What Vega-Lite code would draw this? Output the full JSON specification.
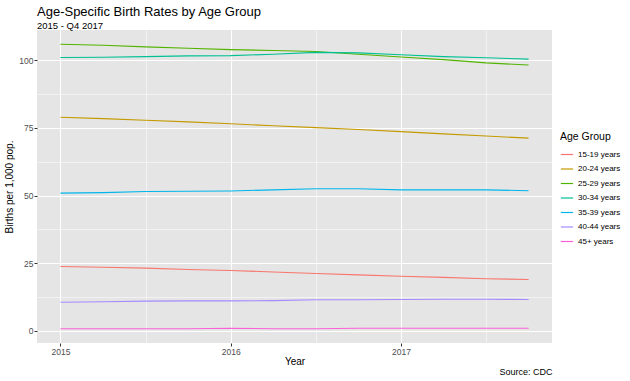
{
  "$schema": "https://vega.github.io/schema/vega-lite/v6.json",
  "width": 515,
  "height": 313,
  "autosize": {"type": "none"},
  "padding": {"left": 37, "top": 30, "right": 78, "bottom": 38},
  "background": "white",
  "config": {
    "font": "Liberation Sans",
    "view": {"fill": "#E5E5E5", "stroke": null},
    "axis": {
      "domain": false,
      "gridColor": "white",
      "labelColor": "#4D4D4D",
      "labelFontSize": 8.5,
      "tickColor": "#333333",
      "tickSize": 3,
      "labelPadding": 1,
      "titleFontSize": 10,
      "titleFontWeight": "normal",
      "titleColor": "black"
    },
    "legend": {
      "titleFontSize": 10.5,
      "titleFontWeight": "normal",
      "labelFontSize": 8,
      "labelColor": "black",
      "symbolType": "stroke",
      "symbolStrokeWidth": 1.2,
      "symbolSize": 150,
      "rowPadding": 3.5
    }
  },
  "title": {"text": "Age-Specific Birth Rates by Age Group", "subtitle": "2015 - Q4 2017", "anchor": "start", "frame": "group", "fontSize": 13, "fontWeight": "normal", "subtitleFontSize": 9.5, "subtitleColor": "black", "offset": 0, "subtitlePadding": 2},
  "data": {"values": [
    {"year": 2015.0, "group": "15-19 years", "rate": 23.8},
    {"year": 2015.25, "group": "15-19 years", "rate": 23.5},
    {"year": 2015.5, "group": "15-19 years", "rate": 23.2},
    {"year": 2015.75, "group": "15-19 years", "rate": 22.7},
    {"year": 2016.0, "group": "15-19 years", "rate": 22.3},
    {"year": 2016.25, "group": "15-19 years", "rate": 21.8},
    {"year": 2016.5, "group": "15-19 years", "rate": 21.2},
    {"year": 2016.75, "group": "15-19 years", "rate": 20.7},
    {"year": 2017.0, "group": "15-19 years", "rate": 20.2},
    {"year": 2017.25, "group": "15-19 years", "rate": 19.8},
    {"year": 2017.5, "group": "15-19 years", "rate": 19.3},
    {"year": 2017.75, "group": "15-19 years", "rate": 19.0},
    {"year": 2015.0, "group": "20-24 years", "rate": 78.9},
    {"year": 2015.25, "group": "20-24 years", "rate": 78.4},
    {"year": 2015.5, "group": "20-24 years", "rate": 77.8},
    {"year": 2015.75, "group": "20-24 years", "rate": 77.2},
    {"year": 2016.0, "group": "20-24 years", "rate": 76.5},
    {"year": 2016.25, "group": "20-24 years", "rate": 75.8},
    {"year": 2016.5, "group": "20-24 years", "rate": 75.1},
    {"year": 2016.75, "group": "20-24 years", "rate": 74.4},
    {"year": 2017.0, "group": "20-24 years", "rate": 73.6},
    {"year": 2017.25, "group": "20-24 years", "rate": 72.8},
    {"year": 2017.5, "group": "20-24 years", "rate": 72.0},
    {"year": 2017.75, "group": "20-24 years", "rate": 71.2},
    {"year": 2015.0, "group": "25-29 years", "rate": 105.9},
    {"year": 2015.25, "group": "25-29 years", "rate": 105.5},
    {"year": 2015.5, "group": "25-29 years", "rate": 104.9},
    {"year": 2015.75, "group": "25-29 years", "rate": 104.4},
    {"year": 2016.0, "group": "25-29 years", "rate": 103.9},
    {"year": 2016.25, "group": "25-29 years", "rate": 103.6},
    {"year": 2016.5, "group": "25-29 years", "rate": 103.2},
    {"year": 2016.75, "group": "25-29 years", "rate": 102.2},
    {"year": 2017.0, "group": "25-29 years", "rate": 101.2},
    {"year": 2017.25, "group": "25-29 years", "rate": 100.2},
    {"year": 2017.5, "group": "25-29 years", "rate": 99.0},
    {"year": 2017.75, "group": "25-29 years", "rate": 98.2},
    {"year": 2015.0, "group": "30-34 years", "rate": 101.0},
    {"year": 2015.25, "group": "30-34 years", "rate": 101.1},
    {"year": 2015.5, "group": "30-34 years", "rate": 101.3},
    {"year": 2015.75, "group": "30-34 years", "rate": 101.6},
    {"year": 2016.0, "group": "30-34 years", "rate": 101.7},
    {"year": 2016.25, "group": "30-34 years", "rate": 102.2},
    {"year": 2016.5, "group": "30-34 years", "rate": 102.9},
    {"year": 2016.75, "group": "30-34 years", "rate": 102.7},
    {"year": 2017.0, "group": "30-34 years", "rate": 102.0},
    {"year": 2017.25, "group": "30-34 years", "rate": 101.3},
    {"year": 2017.5, "group": "30-34 years", "rate": 100.9},
    {"year": 2017.75, "group": "30-34 years", "rate": 100.4},
    {"year": 2015.0, "group": "35-39 years", "rate": 50.9},
    {"year": 2015.25, "group": "35-39 years", "rate": 51.1},
    {"year": 2015.5, "group": "35-39 years", "rate": 51.5},
    {"year": 2015.75, "group": "35-39 years", "rate": 51.6},
    {"year": 2016.0, "group": "35-39 years", "rate": 51.7},
    {"year": 2016.25, "group": "35-39 years", "rate": 52.1},
    {"year": 2016.5, "group": "35-39 years", "rate": 52.5},
    {"year": 2016.75, "group": "35-39 years", "rate": 52.5},
    {"year": 2017.0, "group": "35-39 years", "rate": 52.1},
    {"year": 2017.25, "group": "35-39 years", "rate": 52.1},
    {"year": 2017.5, "group": "35-39 years", "rate": 52.1},
    {"year": 2017.75, "group": "35-39 years", "rate": 51.8},
    {"year": 2015.0, "group": "40-44 years", "rate": 10.6},
    {"year": 2015.25, "group": "40-44 years", "rate": 10.8},
    {"year": 2015.5, "group": "40-44 years", "rate": 11.0},
    {"year": 2015.75, "group": "40-44 years", "rate": 11.1},
    {"year": 2016.0, "group": "40-44 years", "rate": 11.1},
    {"year": 2016.25, "group": "40-44 years", "rate": 11.2},
    {"year": 2016.5, "group": "40-44 years", "rate": 11.5},
    {"year": 2016.75, "group": "40-44 years", "rate": 11.5},
    {"year": 2017.0, "group": "40-44 years", "rate": 11.6},
    {"year": 2017.25, "group": "40-44 years", "rate": 11.7},
    {"year": 2017.5, "group": "40-44 years", "rate": 11.7},
    {"year": 2017.75, "group": "40-44 years", "rate": 11.6},
    {"year": 2015.0, "group": "45+ years", "rate": 0.8},
    {"year": 2015.25, "group": "45+ years", "rate": 0.8},
    {"year": 2015.5, "group": "45+ years", "rate": 0.8},
    {"year": 2015.75, "group": "45+ years", "rate": 0.8},
    {"year": 2016.0, "group": "45+ years", "rate": 1.0},
    {"year": 2016.25, "group": "45+ years", "rate": 0.8},
    {"year": 2016.5, "group": "45+ years", "rate": 0.8},
    {"year": 2016.75, "group": "45+ years", "rate": 1.0},
    {"year": 2017.0, "group": "45+ years", "rate": 1.0},
    {"year": 2017.25, "group": "45+ years", "rate": 1.0},
    {"year": 2017.5, "group": "45+ years", "rate": 1.0},
    {"year": 2017.75, "group": "45+ years", "rate": 1.0}
  ]},
  "layer": [
    {
      "mark": {"type": "line", "strokeWidth": 1.1},
      "encoding": {
        "x": {
          "field": "year", "type": "quantitative",
          "scale": {"domain": [2014.8625, 2017.8875], "nice": false, "zero": false},
          "axis": {
            "title": "Year",
            "values": [2015, 2015.5, 2016, 2016.5, 2017, 2017.5],
            "labelExpr": "datum.value % 1 == 0 ? format(datum.value, 'd') : ''",
            "tickOpacity": {"condition": {"test": "datum.value % 1 == 0", "value": 1}, "value": 0},
            "gridWidth": {"condition": {"test": "datum.value % 1 == 0", "value": 1.1}, "value": 0.5},
            "titlePadding": 1
          }
        },
        "y": {
          "field": "rate", "type": "quantitative",
          "scale": {"domain": [-4.45, 111.15], "nice": false, "zero": false},
          "axis": {
            "title": "Births per 1,000 pop.",
            "values": [0, 12.5, 25, 37.5, 50, 62.5, 75, 87.5, 100],
            "labelExpr": "datum.value % 25 == 0 ? format(datum.value, 'd') : ''",
            "tickOpacity": {"condition": {"test": "datum.value % 25 == 0", "value": 1}, "value": 0},
            "gridWidth": {"condition": {"test": "datum.value % 25 == 0", "value": 1.1}, "value": 0.5},
            "titlePadding": 4
          }
        },
        "color": {
          "field": "group", "type": "nominal",
          "scale": {
            "domain": ["15-19 years", "20-24 years", "25-29 years", "30-34 years", "35-39 years", "40-44 years", "45+ years"],
            "range": ["#F8766D", "#C49A00", "#53B400", "#00C094", "#00B6EB", "#A58AFF", "#FB61D7"]
          },
          "legend": {"title": "Age Group", "orient": "none", "legendX": 523, "legendY": 102}
        }
      }
    },
    {
      "mark": {"type": "rule", "opacity": 0},
      "encoding": {
        "x": {
          "field": "year", "type": "quantitative",
          "axis": {
            "orient": "bottom", "title": "Source: CDC", "labels": false, "ticks": false, "grid": false,
            "titleAnchor": "end", "titleFontSize": 9, "titlePadding": 24
          }
        }
      }
    }
  ],
  "resolve": {"axis": {"x": "independent"}}
}
